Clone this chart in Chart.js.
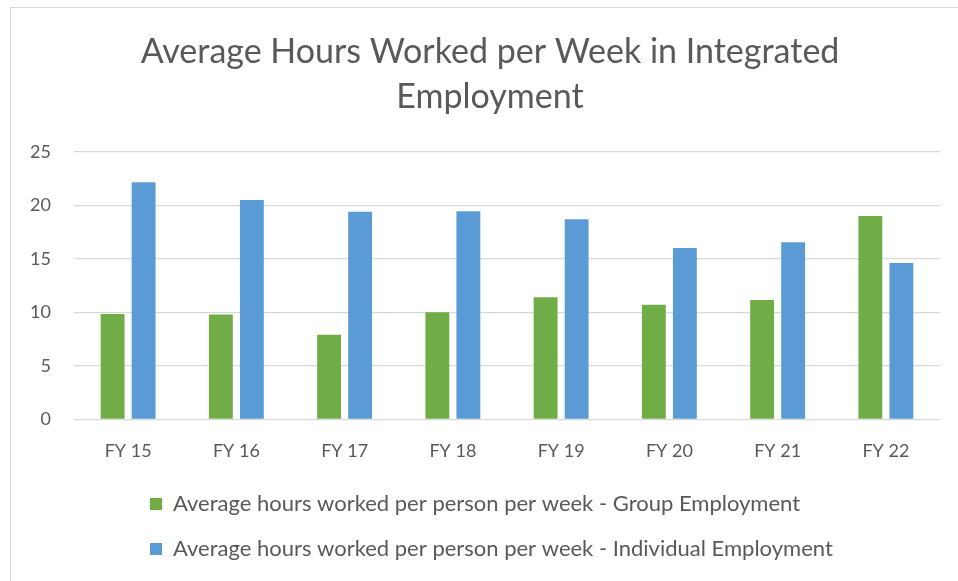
<!DOCTYPE html>
<html>
<head>
<meta charset="utf-8">
<script src="https://cdn.jsdelivr.net/npm/chart.js@4.4.0/dist/chart.umd.min.js"></script>
<style>
  body { margin: 0; background: #fff; }
  #frame { position: absolute; left: 10px; top: 7px; width: 1000px; height: 700px; border: 1px solid #d9d9d9; }
  #wrap { position: absolute; left: 0; top: 0; width: 958px; height: 581px; }
</style>
</head>
<body>
<div id="frame"></div>
<div id="wrap"><canvas id="grafico"></canvas></div>
<script>
// dados
const categorias = ['FY 15', 'FY 16', 'FY 17', 'FY 18', 'FY 19', 'FY 20', 'FY 21', 'FY 22'];
const grupo = [9.85, 9.8, 7.9, 10.0, 11.4, 10.7, 11.15, 19.0];
const individual = [22.15, 20.5, 19.4, 19.45, 18.7, 16.0, 16.55, 14.6];
const tituloLinhas = ['Average Hours Worked per Week in Integrated', 'Employment'];
const rotulosSeries = [
    'Average hours worked per person per week - Group Employment',
    'Average hours worked per person per week - Individual Employment'
];

const corTexto = '#595959';
Chart.defaults.font.family = 'Lato, "Open Sans", sans-serif';
Chart.defaults.color = corTexto;

// ajusta a posição horizontal do título e da legenda (como no Excel)
const ajustePosicao = {
    id: 'ajustePosicao',
    afterLayout(chart) {
        if (chart.titleBlock) {
            chart.titleBlock.left = 40;
            chart.titleBlock.right = 940;
        }
        if (chart.legend) {
            chart.legend.left = 127;
        }
    }
};

const ctx = document.getElementById('grafico').getContext('2d');
new Chart(ctx, {
    type: 'bar',
    data: {
        labels: categorias,
        datasets: [{
            label: rotulosSeries[0],
            data: grupo,
            backgroundColor: '#70AD47',
            borderWidth: 0
        }, {
            label: rotulosSeries[1],
            data: individual,
            backgroundColor: '#5B9BD5',
            borderWidth: 0
        }]
    },
    options: {
        responsive: true,
        maintainAspectRatio: false,
        animation: false,
        layout: { padding: { left: 10, right: 18, top: 30, bottom: 11 } },
        datasets: { bar: { categoryPercentage: 0.573, barPercentage: 0.77 } },
        plugins: {
            title: {
                display: true,
                text: tituloLinhas,
                color: corTexto,
                font: { size: 34, weight: 'normal', lineHeight: 1.32 },
                padding: { top: 0, bottom: 32 }
            },
            legend: {
                position: 'bottom',
                align: 'start',
                labels: {
                    color: corTexto,
                    font: { size: 22 },
                    boxWidth: 12,
                    boxHeight: 12,
                    padding: 23
                }
            },
            tooltip: { enabled: false }
        },
        scales: {
            x: {
                afterFit: function(axis) { axis.height = axis.height - 13; },
                grid: { display: false, drawTicks: false },
                border: { display: false },
                ticks: { font: { size: 18 }, padding: 21, color: corTexto }
            },
            y: {
                min: 0,
                max: 25,
                afterFit: function(axis) { axis.width = 64; },
                ticks: { stepSize: 5, font: { size: 18 }, padding: 23, color: corTexto },
                grid: { color: '#d9d9d9', lineWidth: 1.3, drawTicks: false },
                border: { display: false }
            }
        }
    },
    plugins: [ajustePosicao]
});
</script>
</body>
</html>
